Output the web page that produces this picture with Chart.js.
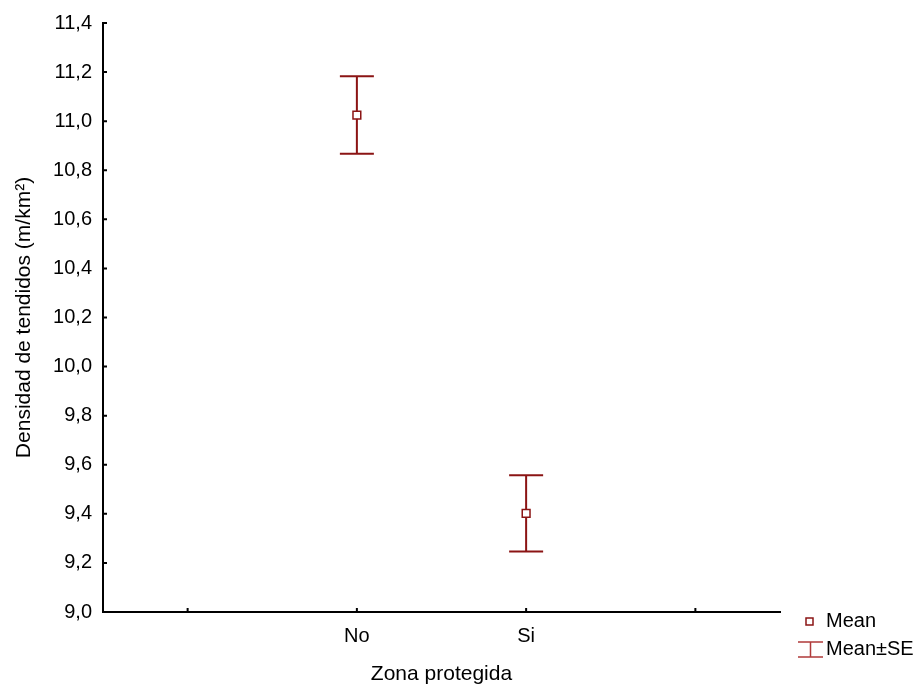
<!DOCTYPE html>
<html>
<head>
<meta charset="utf-8">
<script src="https://cdn.jsdelivr.net/npm/chart.js@4.4.0/dist/chart.umd.min.js"></script>
<style>
  html, body { margin: 0; padding: 0; background: #fff; }
  #wrap { width: 919px; height: 688px; position: relative; }
</style>
</head>
<body>
<div id="wrap"><canvas id="chart"></canvas></div>
<script>
// datos
const categorias = ['No', 'Si']
const posiciones = [2, 3]
const medias = [11.025, 9.402]
const errores = [0.158, 0.155]
const xTicks = [1, 2, 3, 4]

const rojo = '#8b1414'
const fuente = 'Arial, "Liberation Sans", sans-serif'

// barras de error (media ± SE)
const barrasError = {
  id: 'barrasError',
  beforeDatasetsDraw(chart) {
    const ctx = chart.ctx
    const x = chart.scales.x
    const y = chart.scales.y
    ctx.save()
    ctx.strokeStyle = rojo
    ctx.lineWidth = 2
    posiciones.forEach((p, i) => {
      const px = x.getPixelForValue(p)
      const top = y.getPixelForValue(medias[i] + errores[i])
      const bot = y.getPixelForValue(medias[i] - errores[i])
      ctx.beginPath()
      ctx.moveTo(px, top)
      ctx.lineTo(px, bot)
      ctx.moveTo(px - 17, top)
      ctx.lineTo(px + 17, top)
      ctx.moveTo(px - 17, bot)
      ctx.lineTo(px + 17, bot)
      ctx.stroke()
    })
    ctx.restore()
  }
}

// marcas de los ejes hacia dentro + leyenda
const extras = {
  id: 'extras',
  afterDraw(chart) {
    const ctx = chart.ctx
    const x = chart.scales.x
    const y = chart.scales.y
    const area = chart.chartArea
    ctx.save()
    ctx.strokeStyle = '#000'
    ctx.lineWidth = 2
    ctx.beginPath()
    y.ticks.forEach(t => {
      const py = y.getPixelForValue(t.value)
      ctx.moveTo(area.left, py)
      ctx.lineTo(area.left + 4, py)
    })
    xTicks.forEach(v => {
      const px = x.getPixelForValue(v)
      ctx.moveTo(px, area.bottom)
      ctx.lineTo(px, area.bottom - 4)
    })
    ctx.stroke()

    // leyenda
    ctx.fillStyle = '#fff'
    ctx.strokeStyle = rojo
    ctx.lineWidth = 1.5
    ctx.fillRect(806, 618, 7, 7)
    ctx.strokeRect(806, 618, 7, 7)
    ctx.strokeStyle = '#b03a3a'
    ctx.beginPath()
    ctx.moveTo(798, 642); ctx.lineTo(823, 642)
    ctx.moveTo(798, 657); ctx.lineTo(823, 657)
    ctx.moveTo(810.5, 642); ctx.lineTo(810.5, 657)
    ctx.stroke()
    ctx.fillStyle = '#000'
    ctx.font = '20px ' + fuente
    ctx.textBaseline = 'middle'
    ctx.textAlign = 'left'
    ctx.fillText('Mean', 826, 621)
    ctx.fillText('Mean\u00b1SE', 826, 649)
    ctx.restore()
  }
}

new Chart(document.getElementById('chart'), {
  type: 'scatter',
  data: {
    datasets: [{
      label: 'Mean',
      data: posiciones.map((p, i) => ({ x: p, y: medias[i] })),
      pointStyle: 'rect',
      pointRadius: 5.5,
      pointBorderWidth: 1.5,
      pointBackgroundColor: '#fff',
      pointBorderColor: rojo
    }]
  },
  options: {
    responsive: true,
    maintainAspectRatio: false,
    animation: false,
    layout: { padding: { top: 23, right: 139, left: 0, bottom: 0 } },
    plugins: { legend: { display: false }, tooltip: { enabled: false } },
    scales: {
      x: {
        type: 'linear',
        min: 0.5,
        max: 4.5,
        afterBuildTicks: s => { s.ticks = xTicks.map(v => ({ value: v })) },
        afterFit: s => { s.height = 76 },
        grid: { display: false, drawTicks: false },
        border: { display: true, color: '#000', width: 2 },
        ticks: {
          padding: 12,
          color: '#000',
          font: { size: 20, family: fuente },
          callback: v => {
            const i = posiciones.indexOf(v)
            return i >= 0 ? categorias[i] : ''
          }
        },
        title: {
          display: true,
          text: 'Zona protegida',
          color: '#000',
          font: { size: 21, family: fuente },
          padding: { top: 0, bottom: 1 }
        }
      },
      y: {
        min: 9,
        max: 11.4,
        afterFit: s => { s.width = 103 },
        grid: { display: false, drawTicks: false },
        border: { display: true, color: '#000', width: 2 },
        ticks: {
          stepSize: 0.2,
          padding: 11,
          color: '#000',
          font: { size: 20, family: fuente },
          callback: v => v.toFixed(1).replace('.', ',')
        },
        title: {
          display: true,
          text: 'Densidad de tendidos (m/km\u00b2)',
          color: '#000',
          font: { size: 21, family: fuente },
          padding: { top: 12, bottom: 0 }
        }
      }
    }
  },
  plugins: [barrasError, extras]
})
</script>
</body>
</html>
